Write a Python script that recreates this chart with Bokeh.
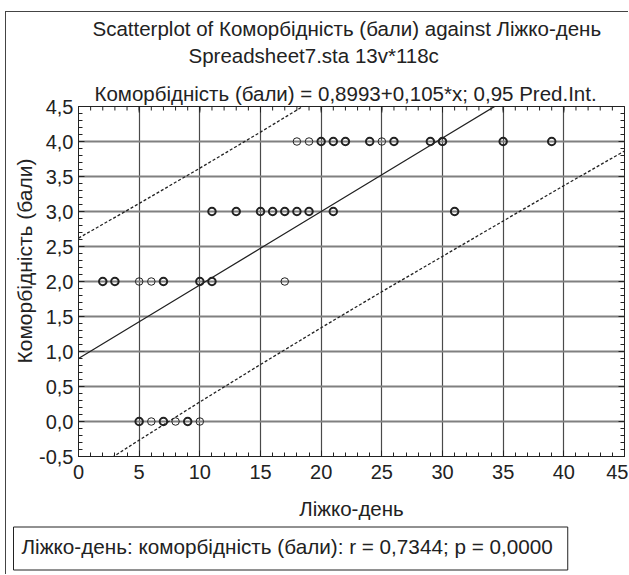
from bokeh.plotting import figure
from bokeh.models import LinearAxis, FixedTicker, Range1d, ColumnDataSource, Title
from bokeh.embed import file_html
from bokeh.resources import INLINE

# ---- data ----
days = [18, 19, 20, 21, 22, 24, 25, 26, 29, 30, 35, 39,
        11, 13, 15, 16, 17, 18, 19, 21, 31,
        2, 3, 5, 6, 7, 10, 11, 17,
        5, 6, 7, 8, 9, 10]
scores = [4, 4, 4, 4, 4, 4, 4, 4, 4, 4, 4, 4,
          3, 3, 3, 3, 3, 3, 3, 3, 3,
          2, 2, 2, 2, 2, 2, 2, 2,
          0, 0, 0, 0, 0, 0]
cases = [1, 1, 3, 2, 4, 2, 1, 2, 2, 4, 3, 2,
         4, 4, 5, 3, 3, 3, 3, 2, 2,
         2, 3, 1, 1, 3, 6, 4, 1,
         2, 1, 2, 1, 5, 1]

intercept = 0.8993
slope = 0.105
pi_x = [0, 5, 10, 15, 20, 25, 30, 35, 40, 45]
pi_half = [1.72, 1.69, 1.67, 1.66, 1.66, 1.67, 1.69, 1.71, 1.73, 1.76]

x_ticks = [0, 5, 10, 15, 20, 25, 30, 35, 40, 45]
x_minor = list(range(0, 46))
y_ticks = [-0.5, 0.0, 0.5, 1.0, 1.5, 2.0, 2.5, 3.0, 3.5, 4.0, 4.5]
y_minor = [round(-0.5 + 0.1 * i, 1) for i in range(51)]
y_tick_labels = ["-0,5", "0,0", "0,5", "1,0", "1,5", "2,0", "2,5", "3,0", "3,5", "4,0", "4,5"]

title1 = "Scatterplot of Коморбідність (бали) against Ліжко-день"
title2 = "Spreadsheet7.sta 13v*118c"
title3 = "Коморбідність (бали) = 0,8993+0,105*x; 0,95 Pred.Int."
x_label = "Ліжко-день"
y_label = "Коморбідність (бали)"
stat_text = "Ліжко-день: коморбідність (бали): r = 0,7344; p = 0,0000"

FONT = "Liberation Sans"
INK = "#222222"
TXT = "20.5px"

# ---- layout (canvas px) ----
W, H = 623, 563
FL, FR, FT, FB = 72, 5, 94, 119

p = figure(width=W, height=H, x_range=Range1d(0, 45), y_range=Range1d(-0.5, 4.5),
           output_backend="svg", toolbar_location=None,
           min_border_left=FL, min_border_right=FR, min_border_top=FT, min_border_bottom=FB,
           x_axis_location=None, y_axis_location=None)
p.background_fill_color = "white"
p.border_fill_color = "white"
p.outline_line_color = INK
p.outline_line_width = 1
p.margin = (11, 0, 0, 5)
p.styles = {"border-left": "1px solid #444444", "border-top": "1px solid #444444"}

# grids
p.xgrid.ticker = FixedTicker(ticks=x_ticks)
p.ygrid.ticker = FixedTicker(ticks=y_ticks)
p.xgrid.grid_line_color = "#4a4a4a"
p.xgrid.grid_line_width = 1.2
p.ygrid.grid_line_color = "#808080"
p.ygrid.grid_line_width = 1.8


def style_axis(ax):
    ax.axis_line_color = INK
    ax.major_tick_line_color = INK
    ax.minor_tick_line_color = INK
    ax.major_tick_in = 6
    ax.major_tick_out = 0
    ax.minor_tick_in = 4
    ax.minor_tick_out = 0
    ax.major_label_text_font = FONT
    ax.major_label_text_font_size = "20px"
    ax.major_label_text_color = INK
    ax.axis_label_text_font = FONT
    ax.axis_label_text_font_size = TXT
    ax.axis_label_text_font_style = "normal"
    ax.axis_label_text_color = INK


xb = LinearAxis(ticker=FixedTicker(ticks=x_ticks, minor_ticks=x_minor), axis_label=x_label)
style_axis(xb)
xb.major_label_standoff = 8
xb.axis_label_standoff = 15
p.add_layout(xb, "below")

yl = LinearAxis(ticker=FixedTicker(ticks=y_ticks, minor_ticks=y_minor))
style_axis(yl)
yl.major_label_overrides = {v: s for v, s in zip(y_ticks, y_tick_labels)}
yl.major_label_standoff = 5
p.add_layout(yl, "left")

# y axis title (placed toward the top end, as in the reference)
p.add_layout(Title(text=y_label, align="right", offset=52, text_font=FONT,
                   text_font_size="21px", text_font_style="normal", text_color=INK,
                   standoff=1), "left")

# inward ticks along top and right frame edges (half of each dash is clipped away)
p.scatter(x_minor, [4.5] * len(x_minor), marker="dash", angle=1.5708, size=8,
          line_color=INK, line_width=1)
p.scatter(x_ticks, [4.5] * len(x_ticks), marker="dash", angle=1.5708, size=12,
          line_color=INK, line_width=1)
p.scatter([45] * len(y_minor), y_minor, marker="dash", size=8, line_color=INK, line_width=1)
p.scatter([45] * len(y_ticks), y_ticks, marker="dash", size=12, line_color=INK, line_width=1)

# regression line and prediction interval
fit_y = [intercept + slope * x for x in pi_x]
upper = [f + h for f, h in zip(fit_y, pi_half)]
lower = [f - h for f, h in zip(fit_y, pi_half)]
p.line(pi_x, fit_y, line_color=INK, line_width=1.3)
p.line(pi_x, upper, line_color=INK, line_width=1.3, line_dash="3 2")
p.line(pi_x, lower, line_color=INK, line_width=1.3, line_dash="3 2")

# points
src = ColumnDataSource(dict(x=days, y=scores, n=cases,
                            lw=[1.0 if c == 1 else 2.0 for c in cases]))
p.scatter("x", "y", source=src, marker="circle", size=7.5, fill_color=None,
          line_color=INK, line_width="lw")

# titles: added nearest-to-frame first
for txt, off, so, pad, va in [(title3, 16, 0, (0, 0, 15, 0), "top"),
                              (title2, 110, 0, 0, "bottom"),
                              (title1, 14, 4, 0, "bottom")]:
    p.add_layout(Title(text=txt, align="left", offset=off, padding=pad, vertical_align=va,
                       text_font=FONT, text_font_size=TXT, text_font_style="normal",
                       text_color=INK, standoff=so), "above")

# statistics box below the x axis
p.add_layout(Title(text=stat_text, align="left", offset=-65, text_font=FONT,
                   text_font_size="20.7px", text_font_style="normal", text_color=INK,
                   border_line_color=INK, border_line_width=1, padding=(8, 15, 8, 12),
                   background_fill_color="white", standoff=5), "below")

open("out.html", "w").write(file_html(p, INLINE))
